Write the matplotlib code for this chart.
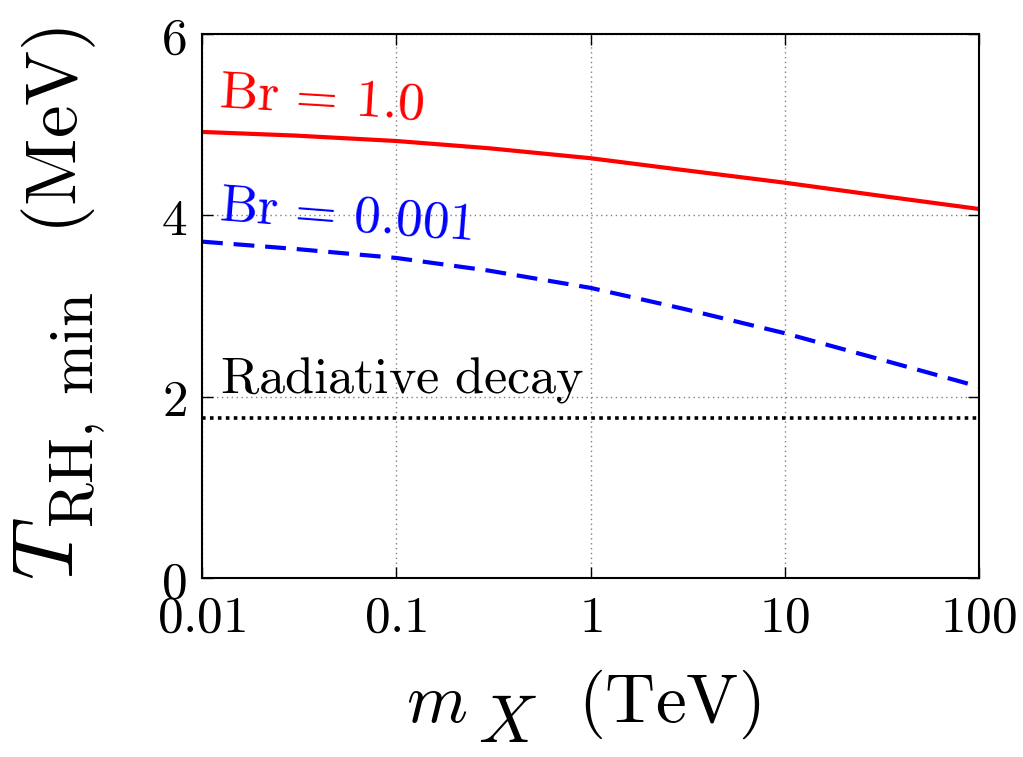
import matplotlib
matplotlib.use("Agg")
import matplotlib.pyplot as plt
from matplotlib.ticker import FixedLocator, FixedFormatter, NullLocator

plt.rcParams['mathtext.fontset'] = 'cm'
plt.rcParams['font.family'] = ['DejaVu Serif']

# data
mx = [0.01, 0.03, 0.1, 0.3, 1, 3, 10, 30, 100]
t_br1 = [4.92, 4.88, 4.82, 4.74, 4.63, 4.50, 4.36, 4.22, 4.07]
t_br0001 = [3.71, 3.63, 3.53, 3.39, 3.20, 2.97, 2.70, 2.42, 2.11]
t_radiative = 1.77
xticks = [0.01, 0.1, 1, 10, 100]
xticklabels = ['0.01', '0.1', '1', '10', '100']
yticks = [0, 2, 4, 6]
yticklabels = ['0', '2', '4', '6']

W, H = 1023, 757
fig = plt.figure(figsize=(W / 100, H / 100), dpi=100)
ax = fig.add_axes([202 / W, 1 - 578 / H, (979 - 202) / W, (578 - 34) / H])

ax.plot(mx, t_br1, color='#ff0000', lw=3.0, solid_capstyle='butt')
ax.plot(mx, t_br0001, color='#0000ff', lw=3.0, dashes=(5, 2.6))
ax.axhline(t_radiative, color='black', lw=2.6, dashes=(1, 1.2))

ax.set_xscale('log')
ax.set_xlim(0.01, 100)
ax.set_ylim(0, 6)
ax.xaxis.set_major_locator(FixedLocator(xticks))
ax.xaxis.set_major_formatter(FixedFormatter(['$\\mathrm{%s}$' % s for s in xticklabels]))
ax.xaxis.set_minor_locator(NullLocator())
ax.yaxis.set_major_locator(FixedLocator(yticks))
ax.yaxis.set_major_formatter(FixedFormatter(['$\\mathrm{%s}$' % s for s in yticklabels]))

ax.grid(True, color='#808080', lw=1.0, ls=(0, (1, 2.5)))
ax.tick_params(direction='in', length=8, width=1, top=True, right=True,
               labelsize=37, pad=11)
for s in ax.spines.values():
    s.set_linewidth(1.5)


def px(x, y):
    return x / W, 1 - y / H


# x label, composed from pieces
fig.text(*px(406, 722), r'$m$', fontsize=50, ha='left', va='baseline')
fig.text(*px(478, 742), r'$X$', fontsize=48, ha='left', va='baseline')
fig.text(*px(578, 722), r'$(\mathrm{TeV})$', fontsize=50, ha='left', va='baseline')

# y label, composed from pieces (rotated)
kw = dict(rotation=90, rotation_mode='anchor', ha='left', va='baseline')
fig.text(*px(73, 580), r'$T$', fontsize=62, **kw)
fig.text(*px(93, 528), r'$\mathrm{RH,\;min}$', fontsize=44, **kw)
fig.text(*px(77, 234), r'$(\mathrm{MeV})$', fontsize=53, **kw)

ax.text(0.0121, 5.2, r'$\mathrm{Br}\, =\, 1.0$', color='#ff0000', fontsize=39,
        rotation=-3.5, rotation_mode='anchor', ha='left', va='baseline')
ax.text(0.0121, 3.95, r'$\mathrm{Br}\, =\, 0.001$', color='#0000ff', fontsize=38.5,
        rotation=-4.5, rotation_mode='anchor', ha='left', va='baseline')
ax.text(0.0124, 2.05, r'$\mathrm{Radiative\ decay}$', color='black', fontsize=37.5,
        ha='left', va='baseline')

fig.savefig('out.png', dpi=100)
